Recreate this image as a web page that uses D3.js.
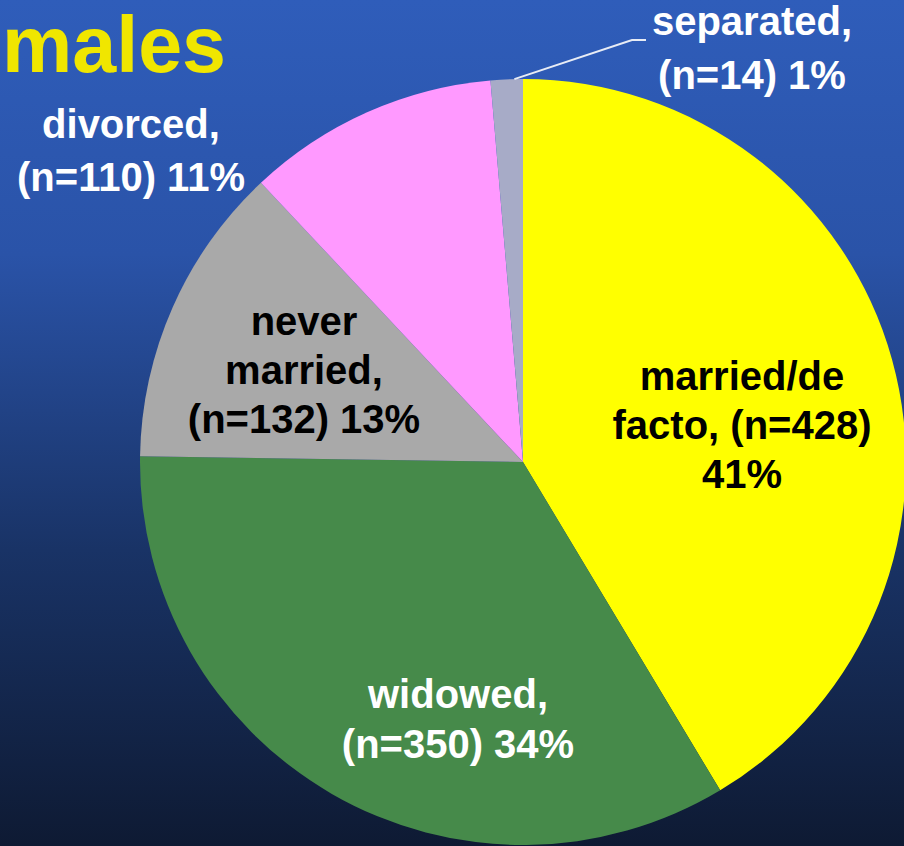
<!DOCTYPE html>
<html>
<head>
<meta charset="utf-8">
<script src="https://cdn.jsdelivr.net/npm/d3@7"></script>
<style>
  html, body { margin: 0; padding: 0; background: #0e1a35; }
  svg { display: block; }
  text { font-family: "Liberation Sans", Arial, sans-serif; font-weight: bold; }
</style>
</head>
<body>
<svg id="chart"></svg>
<script>
const WIDTH = 904;
const HEIGHT = 846;

// data, clockwise from 12 o'clock
const categories = ['married/de facto', 'widowed', 'never married', 'divorced', 'separated'];
const counts = [428, 350, 132, 110, 14];
const percents = [41, 34, 13, 11, 1];
const labelLines = [
  ['married/de', 'facto, (n=428)', '41%'],
  ['widowed,', '(n=350) 34%'],
  ['never', 'married,', '(n=132) 13%'],
  ['divorced,', '(n=110) 11%'],
  ['separated,', '(n=14) 1%']
];
const colors = ['#ffff00', '#468a4a', '#a9a9a9', '#ff99ff', '#a7abc7'];
const textColors = ['#000', '#fff', '#000', '#fff', '#fff'];

// label anchor (centre x, first baseline y, line step)
const labelPos = [
  [742, 390, 49],
  [458, 708, 50],
  [304, 335, 49],
  [131, 138, 53],
  [752, 35, 54]
];

const cx = 523;
const cy = 462;
const radius = 383;

const svg = d3.select('#chart').attr('width', WIDTH).attr('height', HEIGHT);

const defs = svg.append('defs');
const grad = defs.append('linearGradient')
  .attr('id', 'bg').attr('x1', 0).attr('y1', 0).attr('x2', 0).attr('y2', 1);
grad.append('stop').attr('offset', '0%').attr('stop-color', '#2f5dba');
grad.append('stop').attr('offset', '30%').attr('stop-color', '#2a53a8');
grad.append('stop').attr('offset', '65%').attr('stop-color', '#193366');
grad.append('stop').attr('offset', '100%').attr('stop-color', '#0e1a33');

svg.append('rect').attr('width', WIDTH).attr('height', HEIGHT).attr('fill', 'url(#bg)');

const pieData = d3.pie().sort(null).value(d => d)(counts);
const arc = d3.arc().innerRadius(0).outerRadius(radius);

const g = svg.append('g').attr('transform', `translate(${cx},${cy})`);
g.selectAll('path.slice')
  .data(pieData)
  .join('path')
  .attr('class', 'slice')
  .attr('d', arc)
  .attr('fill', (d, i) => colors[i]);

// leader line for the thin separated slice
const sep = pieData[4];
const midA = (sep.startAngle + sep.endAngle) / 2 + 0.02;
const p0 = [cx + radius * Math.sin(midA), cy - radius * Math.cos(midA)];
svg.append('polyline')
  .attr('points', [p0, [632, 40], [646, 40]].map(p => p.join(',')).join(' '))
  .attr('fill', 'none')
  .attr('stroke', '#e8ecf5')
  .attr('stroke-width', 2);

// labels
categories.forEach((c, i) => {
  const [x, y, step] = labelPos[i];
  const t = svg.append('text')
    .attr('text-anchor', 'middle')
    .attr('font-size', 40)
    .attr('fill', textColors[i]);
  labelLines[i].forEach((line, k) => {
    t.append('tspan').attr('x', x).attr('y', y + k * step).text(line);
  });
});

// title
svg.append('text')
  .attr('x', 2)
  .attr('y', 72)
  .attr('text-anchor', 'start')
  .attr('font-size', 79)
  .attr('fill', '#f0e600')
  .text('males');
</script>
</body>
</html>
